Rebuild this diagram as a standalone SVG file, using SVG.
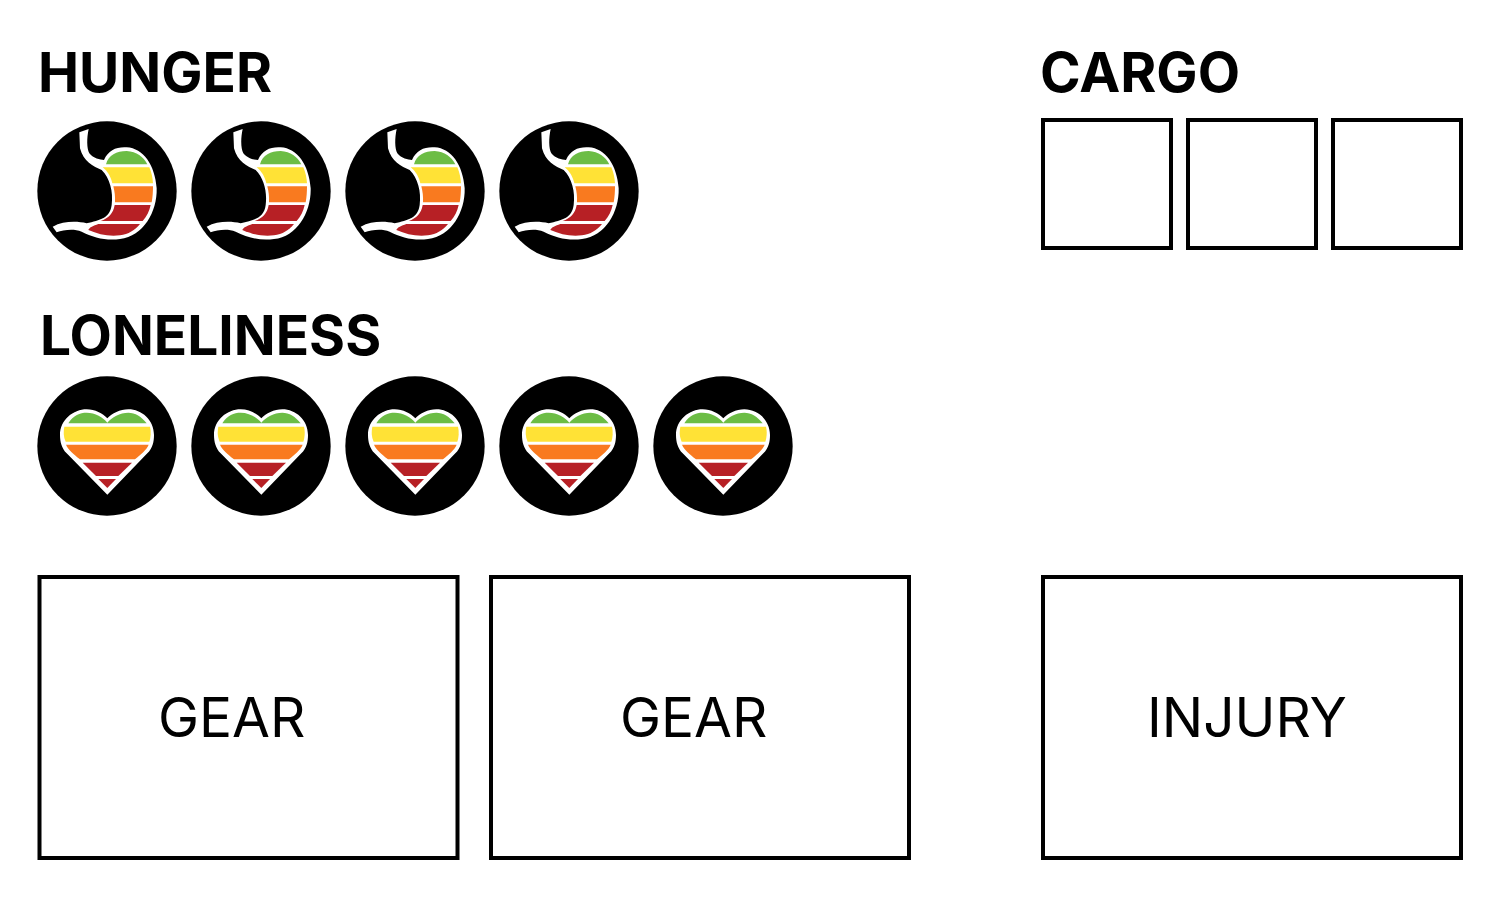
<svg xmlns="http://www.w3.org/2000/svg" width="1500" height="900" viewBox="0 0 1500 900">
<style>
.h{font-family:Inter,Roboto,"Liberation Sans",sans-serif;font-weight:700;font-size:55px;fill:#000}
.l{font-family:Inter,Roboto,"Liberation Sans",sans-serif;font-weight:400;font-size:55px;fill:#000}
.b{fill:#fff;stroke:#000;stroke-width:4}
.g{fill:#6cbd45}.y{fill:#ffe236}.o{fill:#f97a1f}.r{fill:#b72025}
</style>
<defs>
<g id="stomach" transform="scale(.33333)">
<circle cx="231" cy="228" r="209"/>
<path fill="#fff" d="M148,52L176,42C170,70 170,100 178,115C190,130 210,135 222,135C235,105 260,95 290,97C340,100 375,150 380,220C382,290 340,365 270,372C230,378 190,368 155,350C130,340 100,345 80,352L68,335C100,318 140,318 170,325C210,315 240,310 245,270C250,230 240,190 215,165C190,155 160,140 150,100Z"/>
<path class="g" d="M228,148C235,120 260,108 290,108C320,110 340,125 352,148Z"/>
<path class="y" d="M218,157L358,157C365,172 368,190 369,205L247,205C243,185 232,168 218,157Z"/>
<path class="o" d="M250,214L369,214C369,230 368,248 365,262L255,262C256,245 254,230 250,214Z"/>
<path class="r" d="M254,270L362,270C358,288 350,305 338,318L212,318C235,310 250,295 254,270Z"/>
<path class="r" d="M205,327L330,327C315,345 295,358 270,361C235,365 205,358 175,345C178,337 190,332 205,327Z"/>
</g>
<g id="heart" transform="scale(.33333)">
<circle cx="231" cy="228" r="209"/>
<path fill="#fff" d="M232,374L110,250C95,235 90,215 90,195C90,150 130,118 170,118C195,118 218,130 232,145C246,130 270,118 295,118C335,118 372,150 372,195C372,215 368,235 352,250Z"/>
<path class="g" d="M115,160C130,135 150,128 170,128C195,128 220,142 232,158C245,142 270,128 295,128C315,128 335,140 350,160Z"/>
<path class="y" d="M103,170L360,170C364,185 362,203 358,215L107,215C100,200 100,185 103,170Z"/>
<path class="o" d="M108,224L356,224C350,240 330,255 315,268L150,268C130,252 115,240 108,224Z"/>
<path class="r" d="M158,278L306,278L265,318L198,318Z"/>
<path class="r" d="M205,327L258,327L232,354Z"/>
</g>
</defs>
<g id="hunger-label"><text class="h" x="38" y="92">HUNGER</text></g>
<g id="cargo-label"><text class="h" x="1040" y="92">CARGO</text></g>
<g id="loneliness-label"><text class="h" x="40" y="355">LONELINESS</text></g>
<g id="hunger-1"><use href="#stomach" x="30" y="115"/></g>
<g id="hunger-2"><use href="#stomach" x="184" y="115"/></g>
<g id="hunger-3"><use href="#stomach" x="338" y="115"/></g>
<g id="hunger-4"><use href="#stomach" x="492" y="115"/></g>
<g id="loneliness-1"><use href="#heart" x="30" y="370"/></g>
<g id="loneliness-2"><use href="#heart" x="184" y="370"/></g>
<g id="loneliness-3"><use href="#heart" x="338" y="370"/></g>
<g id="loneliness-4"><use href="#heart" x="492" y="370"/></g>
<g id="loneliness-5"><use href="#heart" x="646" y="370"/></g>
<g id="cargo-1"><rect class="b" x="1043" y="120" width="128" height="128"/></g>
<g id="cargo-2"><rect class="b" x="1188" y="120" width="128" height="128"/></g>
<g id="cargo-3"><rect class="b" x="1333" y="120" width="128" height="128"/></g>
<g id="gear-1"><rect class="b" x="39.500" y="577" width="418" height="281"/><text class="l" x="158" y="737">GEAR</text></g>
<g id="gear-2"><rect class="b" x="491" y="577" width="418" height="281"/><text class="l" x="620" y="737">GEAR</text></g>
<g id="injury"><rect class="b" x="1043" y="577" width="418" height="281"/><text class="l" x="1147" y="737">INJURY</text></g>
<g id="connectors"/>
</svg>
